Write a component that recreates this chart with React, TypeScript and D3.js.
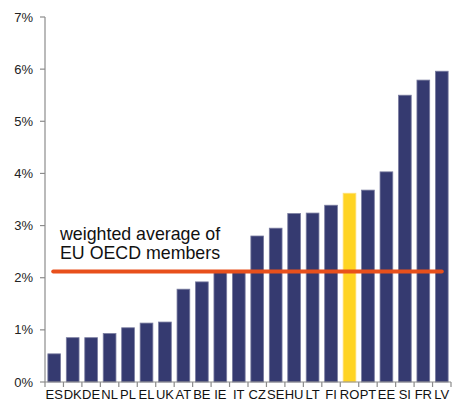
import React from "react";
import * as d3 from "d3";

const categories = ["ES","DK","DE","NL","PL","EL","UK","AT","BE","IE","IT","CZ","SE","HU","LT","FI","RO","PT","EE","SI","FR","LV"];
const values = [0.54,0.85,0.85,0.93,1.04,1.13,1.15,1.78,1.92,2.14,2.14,2.80,2.95,3.23,3.24,3.39,3.62,3.68,4.03,5.50,5.79,5.96];
const highlight = ["RO"];
const average = 2.12;
const yTicks = [0,1,2,3,4,5,6,7];
const annotation = ["weighted average of", "EU OECD members"];

const W = 458, H = 401;
const margin = { left: 45, right: 7, top: 17, bottom: 19 };

export default function App() {
  const x = d3.scaleBand<string>().domain(categories).range([margin.left, W - margin.right]).paddingInner(0.31).paddingOuter(0.155);
  const y = d3.scaleLinear().domain([0, 7]).range([H - margin.bottom, margin.top]);
  const y0 = y(0);
  const step = x.step();
  const font = "Arial, 'Liberation Sans', sans-serif";
  const first = categories[0], last = categories[categories.length - 1];
  return (
    <svg width={W} height={H} style={{ position: "absolute", left: 0, top: 0, background: "#fff" }} fontFamily={font}>
      {categories.map((c, i) => (
        <rect key={c} x={x(c)} y={y(values[i])} width={x.bandwidth()} height={y0 - y(values[i])}
          fill={highlight.includes(c) ? "#FFD424" : "#353A70"}
          stroke={highlight.includes(c) ? "#FFE27A" : "#7A7DA0"} strokeWidth={0.8} />
      ))}
      {/* y axis */}
      <line x1={margin.left} x2={margin.left} y1={y(7)} y2={y0} stroke="#8C8C8C" strokeWidth={1.2} />
      {yTicks.map(t => (
        <g key={t}>
          <line x1={margin.left - 5} x2={margin.left} y1={y(t)} y2={y(t)} stroke="#8C8C8C" strokeWidth={1.2} />
          <text x={33} y={y(t)} dy="0.35em" textAnchor="end" fontSize={13} fill="#222">{t}%</text>
        </g>
      ))}
      {/* x axis */}
      <line x1={margin.left} x2={W - margin.right} y1={y0} y2={y0} stroke="#8C8C8C" strokeWidth={1.2} />
      {d3.range(categories.length + 1).map(i => (
        <line key={i} x1={margin.left + i * step} x2={margin.left + i * step} y1={y0} y2={y0 + 5} stroke="#8C8C8C" strokeWidth={1.2} />
      ))}
      {categories.map(c => (
        <text key={c} x={(x(c) as number) + x.bandwidth() / 2} y={399} textAnchor="middle" fontSize={13} fill="#111">{c}</text>
      ))}
      {/* average line */}
      <line x1={(x(first) as number) + x.bandwidth() / 2 - 1} x2={(x(last) as number) + x.bandwidth() / 2}
        y1={y(average)} y2={y(average)} stroke="#E8501C" strokeWidth={4} strokeLinecap="round" />
      {annotation.map((t, i) => (
        <text key={i} x={60} y={240 + i * 18.5} fontSize={17.8} fill="#111">{t}</text>
      ))}
    </svg>
  );
}
